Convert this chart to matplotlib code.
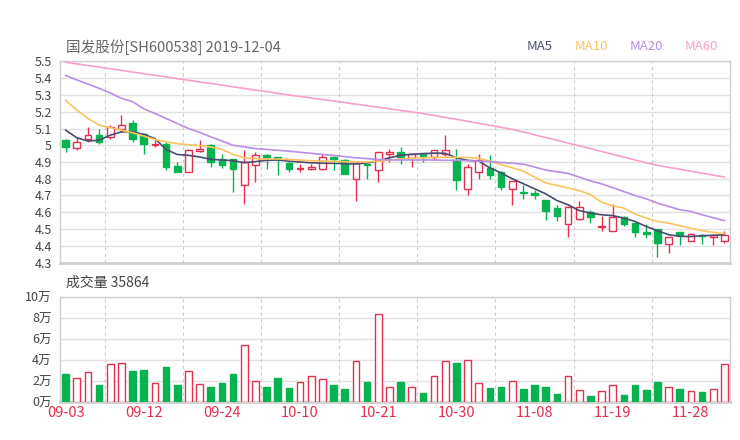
import numpy as np
import matplotlib
matplotlib.use("Agg")
import matplotlib.pyplot as plt

plt.rcParams['font.family'] = ['Noto Sans CJK SC', 'DejaVu Sans']

# --- dane ---
title = "国发股份[SH600538] 2019-12-04"
tick_labels = ["09-03", "09-12", "09-24", "10-10", "10-21", "10-30", "11-08", "11-19", "11-28"]

opens = [5.03, 4.985, 5.036, 5.06, 5.05, 5.10, 5.13, 5.07, 5.00, 5.01,
         4.875, 4.84, 4.965, 5.00, 4.92, 4.915, 4.76, 4.88, 4.943, 4.93,
         4.892, 4.858, 4.86, 4.86, 4.93, 4.91, 4.80, 4.89, 4.85, 4.948,
         4.96, 4.922, 4.947, 4.927, 4.947, 4.91, 4.74, 4.84, 4.863, 4.843,
         4.74, 4.718, 4.716, 4.672, 4.624, 4.53, 4.56, 4.604, 4.51, 4.49,
         4.57, 4.535, 4.482, 4.50, 4.41, 4.482, 4.43, 4.465, 4.453, 4.43]
closes = [4.99, 5.02, 5.06, 5.02, 5.11, 5.12, 5.035, 5.01, 5.01, 4.87,
          4.84, 4.97, 4.975, 4.90, 4.88, 4.86, 4.90, 4.94, 4.928, 4.918,
          4.86, 4.862, 4.873, 4.93, 4.918, 4.83, 4.90, 4.88, 4.957, 4.96,
          4.927, 4.95, 4.938, 4.97, 4.97, 4.79, 4.873, 4.91, 4.82, 4.75,
          4.784, 4.714, 4.702, 4.61, 4.58, 4.633, 4.633, 4.57, 4.52, 4.57,
          4.53, 4.48, 4.47, 4.418, 4.45, 4.467, 4.47, 4.46, 4.467, 4.467]
highs = [5.04, 5.05, 5.11, 5.10, 5.12, 5.18, 5.15, 5.075, 5.03, 5.02,
         4.90, 4.98, 5.03, 5.01, 4.95, 4.92, 4.97, 4.96, 4.95, 4.93,
         4.90, 4.89, 4.89, 4.95, 4.935, 4.92, 4.90, 4.89, 4.96, 4.976,
         4.99, 4.955, 4.95, 4.97, 5.06, 4.98, 4.89, 4.947, 4.94, 4.845,
         4.785, 4.76, 4.735, 4.672, 4.643, 4.635, 4.67, 4.614, 4.58, 4.65,
         4.58, 4.54, 4.53, 4.50, 4.45, 4.485, 4.476, 4.47, 4.47, 4.49]
lows = [4.96, 4.97, 5.02, 5.01, 5.04, 5.08, 5.02, 4.95, 4.99, 4.85,
        4.84, 4.84, 4.96, 4.87, 4.865, 4.72, 4.65, 4.78, 4.86, 4.82,
        4.84, 4.84, 4.853, 4.853, 4.853, 4.83, 4.67, 4.80, 4.78, 4.90,
        4.89, 4.873, 4.90, 4.91, 4.937, 4.73, 4.70, 4.80, 4.80, 4.73,
        4.643, 4.68, 4.68, 4.555, 4.545, 4.453, 4.555, 4.535, 4.49, 4.49,
        4.52, 4.453, 4.447, 4.335, 4.355, 4.404, 4.427, 4.41, 4.404, 4.414]

# wolumen w 万
volumes = [2.71, 2.27, 2.84, 1.67, 3.63, 3.72, 3.00, 3.06, 1.86, 3.38,
           1.67, 2.93, 1.70, 1.48, 1.83, 2.71, 5.43, 2.02, 1.45, 2.33,
           1.36, 1.92, 2.46, 2.18, 1.67, 1.26, 3.91, 1.96, 8.33, 1.48,
           1.89, 1.48, 0.85, 2.46, 3.91, 3.75, 3.97, 1.80, 1.33, 1.42,
           2.05, 1.30, 1.60, 1.42, 0.79, 2.52, 1.17, 0.57, 1.04, 1.60,
           0.73, 1.60, 1.20, 1.92, 1.42, 1.30, 1.07, 1.00, 1.23, 3.5864]

ma5 = [5.09, 5.045, 5.025, 5.03, 5.06, 5.08, 5.08, 5.065, 5.04, 4.975,
       4.945, 4.94, 4.93, 4.916, 4.912, 4.908, 4.896, 4.902, 4.91, 4.912,
       4.905, 4.90, 4.895, 4.893, 4.892, 4.89, 4.888, 4.895, 4.905, 4.925,
       4.94, 4.946, 4.95, 4.953, 4.952, 4.925, 4.91, 4.905, 4.865, 4.835,
       4.80, 4.77, 4.74, 4.71, 4.67, 4.645, 4.61, 4.595, 4.585, 4.58,
       4.565, 4.545, 4.515, 4.49, 4.466, 4.456, 4.455, 4.46, 4.462, 4.466]
ma10 = [5.268, 5.21, 5.16, 5.12, 5.105, 5.09, 5.075, 5.055, 5.035, 5.02,
        5.01, 5.003, 4.998, 4.99, 4.975, 4.945, 4.925, 4.92, 4.918, 4.918,
        4.915, 4.912, 4.907, 4.905, 4.903, 4.902, 4.90, 4.90, 4.905, 4.912,
        4.918, 4.922, 4.925, 4.927, 4.928, 4.928, 4.927, 4.922, 4.905, 4.885,
        4.866, 4.845, 4.81, 4.775, 4.76, 4.745, 4.73, 4.705, 4.66, 4.638,
        4.625, 4.59, 4.565, 4.545, 4.535, 4.52, 4.505, 4.49, 4.48, 4.472]
ma20 = [5.417, 5.39, 5.365, 5.34, 5.312, 5.28, 5.26, 5.218, 5.19, 5.16,
        5.13, 5.10, 5.077, 5.05, 5.025, 5.0, 4.99, 4.98, 4.975, 4.97,
        4.965, 4.958, 4.952, 4.945, 4.94, 4.932, 4.925, 4.92, 4.915, 4.912,
        4.912, 4.912, 4.912, 4.912, 4.91, 4.91, 4.908, 4.905, 4.902, 4.897,
        4.893, 4.887, 4.87, 4.852, 4.842, 4.832, 4.81, 4.787, 4.77, 4.747,
        4.723, 4.70, 4.68, 4.655, 4.635, 4.615, 4.605, 4.585, 4.567, 4.55]
ma60 = [5.496, 5.486, 5.476, 5.467, 5.457, 5.447, 5.437, 5.427, 5.418, 5.408,
        5.398, 5.388, 5.378, 5.369, 5.359, 5.349, 5.339, 5.329, 5.320, 5.310,
        5.300, 5.291, 5.282, 5.273, 5.264, 5.255, 5.245, 5.236, 5.227, 5.218,
        5.208, 5.199, 5.19, 5.178, 5.166, 5.155, 5.143, 5.131, 5.119, 5.107,
        5.095, 5.079, 5.062, 5.046, 5.03, 5.013, 4.997, 4.98, 4.963, 4.946,
        4.929, 4.912, 4.895, 4.88, 4.868, 4.857, 4.845, 4.833, 4.822, 4.81]

# --- kolory ---
RED = "#e5304f"
GREEN = "#07b350"
ma_colors = {"MA5": "#4b4b6e", "MA10": "#fdc35d", "MA20": "#b98ee6", "MA60": "#f99fcb"}
GRID = "#e2e2e2"
SPINE = "#cfcfcf"
TXT = "#444444"

n = len(opens)
x = np.arange(n)
o = np.array(opens); c = np.array(closes)
up = c >= o

fig = plt.figure(figsize=(7.4, 4.4), dpi=100)
ax = fig.add_axes([60/740, 1 - 262.5/440, 670/740, 201/440])
axv = fig.add_axes([60/740, 1 - 402.3/440, 670/740, 105.6/440])

# --- ceny ---
ax.vlines(x, lows, highs, colors=np.where(up, RED, GREEN), lw=1, zorder=2)
body_bot = np.minimum(o, c)
body_h = np.maximum(np.abs(c - o), 0.003)
ax.bar(x[up], body_h[up], bottom=body_bot[up], width=0.6,
       facecolor="white", edgecolor=RED, lw=1, zorder=3)
ax.bar(x[~up], body_h[~up], bottom=body_bot[~up], width=0.6,
       facecolor=GREEN, edgecolor=GREEN, lw=1, zorder=3)

for name, vals in [("MA5", ma5), ("MA10", ma10), ("MA20", ma20), ("MA60", ma60)]:
    ax.plot(x, vals, color=ma_colors[name], lw=1.2, zorder=4)

ax.set_xlim(-0.5, n - 0.5)
ax.set_ylim(4.3, 5.5)
yt = np.round(np.arange(4.3, 5.51, 0.1), 1)
ax.set_yticks(yt)
ax.set_yticklabels([("%g" % v) for v in yt])
ax.set_xticks([])
ax.grid(axis="y", color=GRID, lw=1)
ax.set_axisbelow(True)

# --- wolumen ---
vol = np.array(volumes)
axv.bar(x[up], vol[up], width=0.6, facecolor="white", edgecolor=RED, lw=1, zorder=3)
axv.bar(x[~up], vol[~up], width=0.6, facecolor=GREEN, edgecolor=GREEN, lw=1, zorder=3)
axv.set_xlim(-0.5, n - 0.5)
axv.set_ylim(0, 10)
axv.set_yticks([0, 2, 4, 6, 8, 10])
axv.set_yticklabels(["%d万" % v for v in [0, 2, 4, 6, 8, 10]])
tick_pos = np.arange(0, n, 7)[:len(tick_labels)]
axv.set_xticks(tick_pos)
axv.set_xticklabels(tick_labels)
axv.grid(axis="y", color=GRID, lw=1)
axv.set_axisbelow(True)

for a in (ax, axv):
    for xv in np.arange(3.5, n, 7):
        a.axvline(xv, color="#cccccc", lw=0.8, ls=(0, (3, 3)), zorder=1)
    for s in a.spines.values():
        s.set_color(SPINE)
        s.set_linewidth(1)
    a.spines["bottom"].set_linewidth(2)
    a.tick_params(axis="y", length=0, pad=6, labelsize=9, labelcolor=TXT)
    a.tick_params(axis="x", length=0)

axv.tick_params(axis="x", pad=3, labelsize=10.5, labelcolor=RED)

# --- teksty ---
fig.text(66/740, 1 - 47/440, title, fontsize=10.5, color="#666666", va="center", ha="left")
fig.text(66/740, 1 - 283/440, "成交量 %d" % round(volumes[-1] * 10000),
         fontsize=10, color="#444444", va="center", ha="left")
for name, xp in [("MA5", 527), ("MA10", 575), ("MA20", 630), ("MA60", 685)]:
    fig.text(xp/740, 1 - 46/440, name, fontsize=9.5, color=ma_colors[name],
             va="center", ha="left")

fig.savefig("out.png", dpi=100, facecolor="white")
